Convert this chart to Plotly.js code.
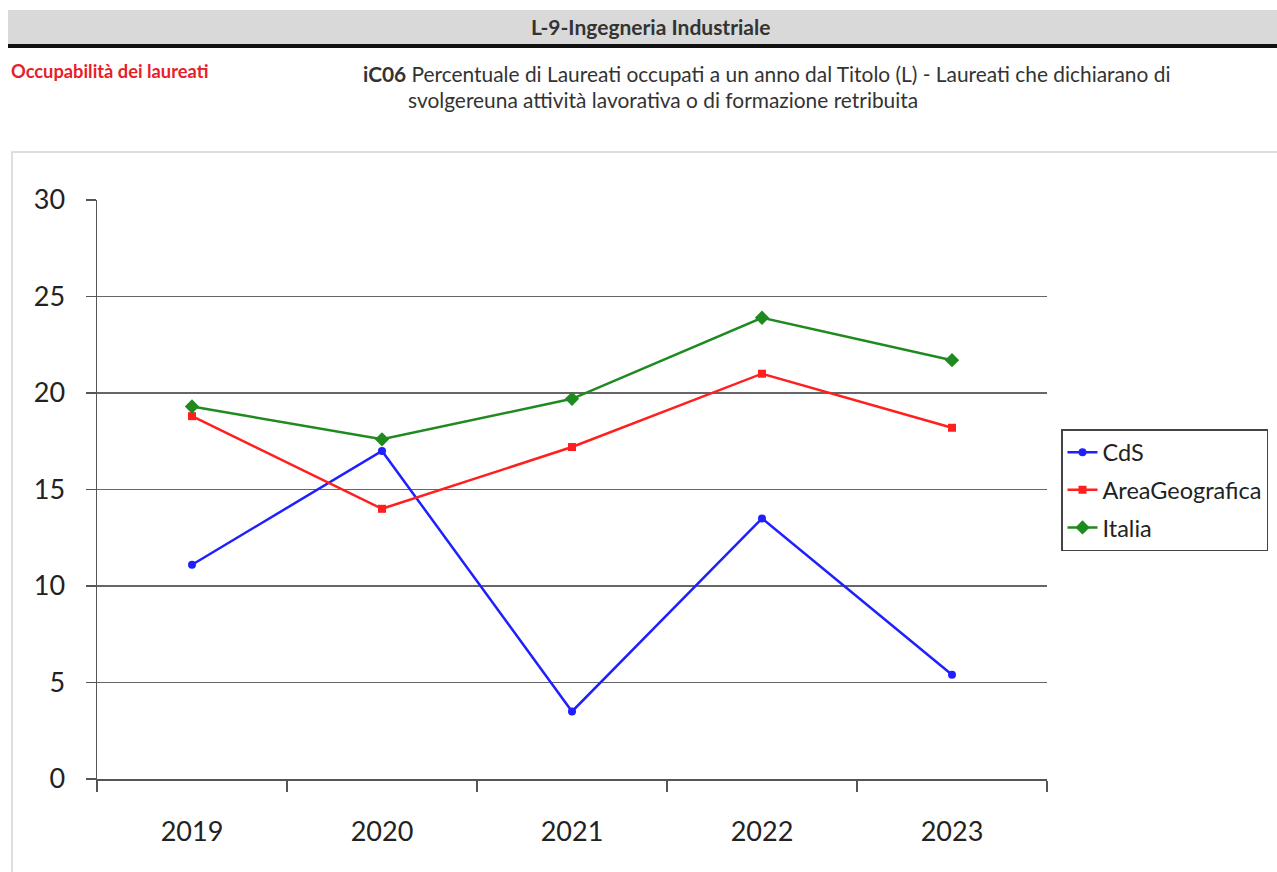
<!DOCTYPE html>
<html>
<head>
<meta charset="utf-8">
<script src="https://cdn.plot.ly/plotly-3.0.1.min.js"></script>
<style>html,body{margin:0;padding:0;background:#fff;}#chart{width:1277px;height:872px;}</style>
</head>
<body>
<div id="chart"></div>
<script>
const years = ["2019", "2020", "2021", "2022", "2023"];
const cds = [11.1, 17.0, 3.5, 13.5, 5.4];
const areaGeografica = [18.8, 14.0, 17.2, 21.0, 18.2];
const italia = [19.3, 17.6, 19.7, 23.9, 21.7];
const yTicks = [0, 5, 10, 15, 20, 25, 30];

const L = 97, R = 1047, T = 200, B = 779, W = 1277, H = 872;
const px = x => (x - L) / (R - L);
const py = y => (B - y) / (B - T);
const FONT = "Lato, 'Open Sans', sans-serif";

const traces = [
  {x: years, y: cds, name: "CdS", legendgroup: "a", type: "scatter", mode: "lines+markers",
   line: {color: "#1f1fff", width: 2.5}, marker: {symbol: "circle", size: 8, color: "#1f1fff"}},
  {x: years, y: areaGeografica, name: "AreaGeografica", legendgroup: "b", type: "scatter", mode: "lines+markers",
   line: {color: "#ff1f1f", width: 2.5}, marker: {symbol: "square", size: 8, color: "#ff1f1f"}},
  {x: years, y: italia, name: "Italia", legendgroup: "c", type: "scatter", mode: "lines+markers",
   line: {color: "#1f8a1f", width: 2.5}, marker: {symbol: "diamond", size: 11, color: "#1f8a1f"}}
];

const layout = {
  width: W, height: H,
  margin: {l: L, r: W - R, t: T, b: H - B, pad: 0, autoexpand: false},
  paper_bgcolor: "#fff", plot_bgcolor: "#fff",
  font: {family: FONT, color: "#222"},
  showlegend: true,
  legend: {x: px(1061), y: py(429), xanchor: "left", yanchor: "top",
    bgcolor: "#fff", bordercolor: "#444", borderwidth: 1.5,
    font: {size: 23.5, family: FONT, color: "#222"}, tracegroupgap: 4, traceorder: "grouped"},
  xaxis: {type: "category", range: [-0.5, 4.5], tickson: "boundaries",
    ticks: "outside", ticklen: 11, tickwidth: 1.5, tickcolor: "#555",
    showline: true, linecolor: "#555", linewidth: 1.5, showgrid: false, zeroline: false,
    tickfont: {size: 27, family: FONT, color: "#222"}, ticklabelstandoff: 28, fixedrange: true},
  yaxis: {range: [0, 30], tickvals: yTicks, ticks: "outside", ticklen: 10, tickwidth: 1.5, tickcolor: "#555",
    showline: true, linecolor: "#555", linewidth: 1.5, showgrid: true, gridcolor: "#666", gridwidth: 1.8,
    zeroline: false, tickfont: {size: 27, family: FONT, color: "#222"}, ticklabelstandoff: 15, fixedrange: true},
  shapes: [
    {type: "rect", xref: "paper", yref: "paper", x0: px(12), x1: px(1300), y0: py(152), y1: py(900),
     line: {color: "#d4d4d4", width: 1.5}, fillcolor: "rgba(0,0,0,0)", layer: "below"},
    {type: "rect", xref: "paper", yref: "paper", x0: px(8), x1: px(1290), y0: py(10), y1: py(44),
     line: {width: 0}, fillcolor: "#d9d9d9"},
    {type: "rect", xref: "paper", yref: "paper", x0: px(8), x1: px(1290), y0: py(44), y1: py(48),
     line: {width: 0}, fillcolor: "#111"}
  ],
  annotations: [
    {text: "<b>L-9-Ingegneria Industriale</b>", xref: "paper", yref: "paper", x: px(650), y: py(27),
     xanchor: "center", yanchor: "middle", showarrow: false, font: {size: 21, family: FONT, color: "#333"}},
    {text: "<b>Occupabilità dei laureati</b>", xref: "paper", yref: "paper", x: px(9), y: py(71),
     xanchor: "left", yanchor: "middle", showarrow: false, font: {size: 18.3, family: FONT, color: "#e8202a"}},
    {text: "<b>iC06</b> Percentuale di Laureati occupati a un anno dal Titolo (L) - Laureati che dichiarano di",
     xref: "paper", yref: "paper", x: px(361), y: py(73), xanchor: "left", yanchor: "middle", showarrow: false,
     font: {size: 20.9, family: FONT, color: "#333"}},
    {text: "svolgereuna attività lavorativa o di formazione retribuita",
     xref: "paper", yref: "paper", x: px(406), y: py(100), xanchor: "left", yanchor: "middle", showarrow: false,
     font: {size: 20.9, family: FONT, color: "#333"}}
  ]
};

Plotly.newPlot("chart", traces, layout, {displayModeBar: false, staticPlot: true});
</script>
</body>
</html>
